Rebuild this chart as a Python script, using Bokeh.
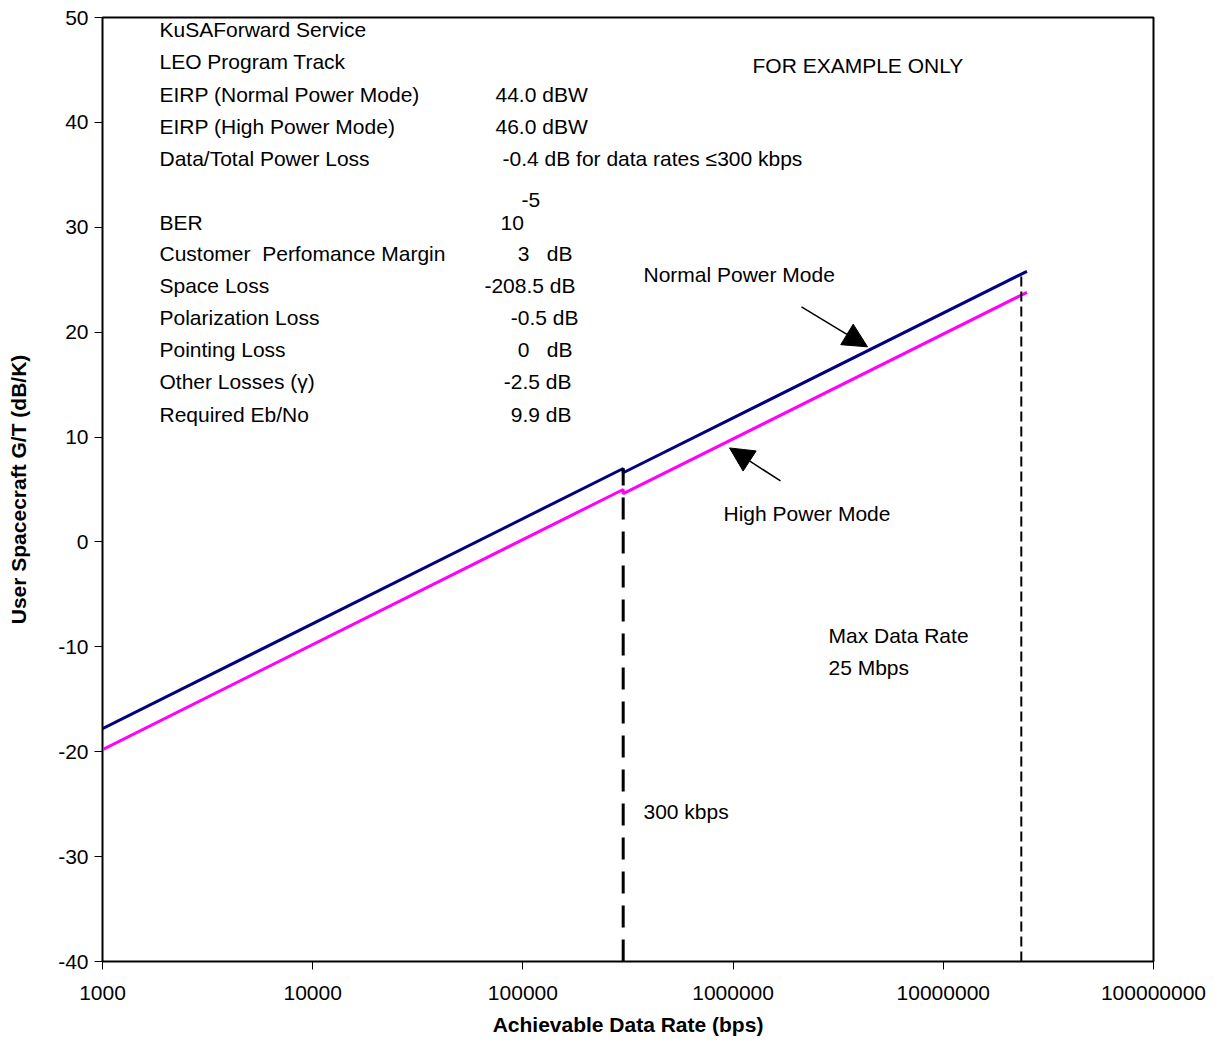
from bokeh.plotting import figure
from bokeh.models import (Label, Arrow, NormalHead, FixedTicker, NumeralTickFormatter, Range1d)
from bokeh.embed import file_html
from bokeh.resources import INLINE

# ---------------- data ----------------
data_rate_bps = [1000, 300000, 300000, 25000000]
gt_normal_db = [-17.8, 7.0, 6.6, 25.8]      # Normal Power Mode (EIRP 44 dBW)
gt_high_db = [-19.8, 5.0, 4.6, 23.8]        # High Power Mode (EIRP 46 dBW)

threshold_rate = 300000
threshold_top = 7.0
max_rate_marker = 23500000
max_rate_top = 25.6

x_ticks = [1000, 10000, 100000, 1000000, 10000000, 100000000]
y_ticks = [-40, -30, -20, -10, 0, 10, 20, 30, 40, 50]

info_labels = ["KuSAForward Service", "LEO Program Track", "EIRP (Normal Power Mode)",
               "EIRP (High Power Mode)", "Data/Total Power Loss", "BER",
               "Customer\u00a0 Perfomance Margin", "Space Loss", "Polarization Loss",
               "Pointing Loss", "Other Losses (\u03b3)", "Required Eb/No"]
info_values = ["44.0 dBW", "46.0 dBW", "-0.4 dB for data rates \u2264300 kbps", "10", "-5",
               "3\u00a0\u00a0 dB", "-208.5 dB", "-0.5 dB", "0\u00a0\u00a0 dB", "-2.5 dB", "9.9 dB"]

FONT = "Liberation Sans"
FS = "21px"

p = figure(width=1214, height=1045, x_axis_type="log",
           x_range=Range1d(1000, 100000000), y_range=Range1d(-40, 50),
           output_backend="svg", toolbar_location=None,
           min_border_left=102, min_border_right=61, min_border_top=17, min_border_bottom=84)
p.background_fill_color = "white"
p.border_fill_color = "white"
p.outline_line_color = "black"
p.outline_line_width = 2
p.xgrid.visible = False
p.ygrid.visible = False

# helpers converting layout positions (reference pixel grid) to data space for annotations
def X(px):
    return 10 ** (3 + (px - 102) / 210.2)

def Y(py):
    return 50 - (py - 17) / 10.478

# axes
p.xaxis.ticker = FixedTicker(ticks=x_ticks)
p.yaxis.ticker = FixedTicker(ticks=y_ticks)
p.xaxis.formatter = NumeralTickFormatter(format="0")
p.yaxis.formatter = NumeralTickFormatter(format="0")
for ax in (p.xaxis[0], p.yaxis[0]):
    ax.minor_tick_line_color = None
    ax.major_tick_in = 0
    ax.major_tick_out = 8
    ax.axis_line_color = "black"
    ax.major_tick_line_color = "black"
    ax.major_label_text_font = FONT
    ax.major_label_text_font_size = FS
    ax.major_label_text_color = "black"
    ax.axis_label_text_font = FONT
    ax.axis_label_text_font_size = FS
    ax.axis_label_text_font_style = "bold"
    ax.axis_label_text_color = "black"
p.xaxis.major_label_standoff = 16
p.xaxis.axis_label_standoff = 10
p.yaxis.major_label_standoff = 6
p.yaxis.axis_label_standoff = 25
p.xaxis.axis_label = "Achievable Data Rate (bps)"
p.yaxis.axis_label = "User Spacecraft G/T (dB/K)"

# series
p.line(data_rate_bps, gt_normal_db, line_color="#000080", line_width=3)
p.line(data_rate_bps, gt_high_db, line_color="#FF00FF", line_width=3)

# marker lines
p.line([threshold_rate, threshold_rate], [y_ticks[0], threshold_top],
       line_color="black", line_width=3, line_dash="22 12")
p.line([max_rate_marker, max_rate_marker], [y_ticks[0], max_rate_top],
       line_color="black", line_width=2, line_dash="10 5")

# info text block
row_y = [29, 61, 94, 126, 158, 222, 253, 285, 317, 349, 381, 414]
for txt, py in zip(info_labels, row_y):
    p.add_layout(Label(x=X(159), y=Y(py), text=txt, text_font=FONT, text_font_size=FS,
                       text_baseline="middle", text_align="left", text_color="black"))

val_pos = [(495, 94, "left"), (495, 126, "left"), (502, 158, "left"), (500, 222, "left"),
           (521, 199, "left"), (572, 253, "right"), (575, 285, "right"), (578, 317, "right"),
           (572, 349, "right"), (571, 381, "right"), (571, 414, "right")]
for txt, (px, py, al) in zip(info_values, val_pos):
    p.add_layout(Label(x=X(px), y=Y(py), text=txt, text_font=FONT, text_font_size=FS,
                       text_baseline="middle", text_align=al, text_color="black"))

other = [("FOR EXAMPLE ONLY", 752, 65), ("Normal Power Mode", 643, 274),
         ("High Power Mode", 723, 512), ("Max Data Rate", 828, 634),
         ("25 Mbps", 828, 666), ("300 kbps", 643, 810)]
for txt, px, py in other:
    p.add_layout(Label(x=X(px), y=Y(py), text=txt, text_font=FONT, text_font_size=FS,
                       text_baseline="middle", text_align="left", text_color="black"))

# arrows
p.add_layout(Arrow(end=NormalHead(size=24, fill_color="black", line_color="black"),
                   x_start=X(801), y_start=Y(306), x_end=X(867), y_end=Y(346),
                   line_color="black", line_width=1.5))
p.add_layout(Arrow(end=NormalHead(size=24, fill_color="black", line_color="black"),
                   x_start=X(780), y_start=Y(480), x_end=X(729), y_end=Y(447),
                   line_color="black", line_width=1.5))

open("out.html", "w").write(file_html(p, INLINE))
